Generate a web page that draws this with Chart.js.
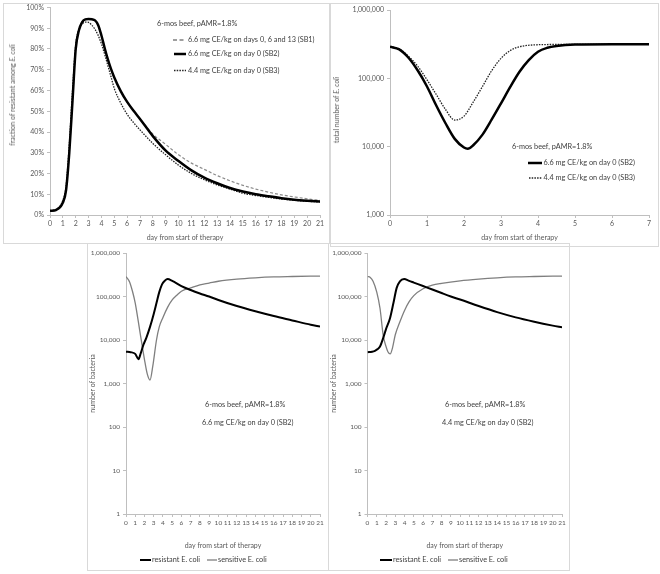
<!DOCTYPE html>
<html><head><meta charset="utf-8">
<script src="https://cdn.jsdelivr.net/npm/chart.js@4/dist/chart.umd.min.js"></script>
<style>
html,body{margin:0;padding:0;background:#fff;}
#root{position:relative;width:660px;height:574px;overflow:hidden;background:#fff;font-family:Lato,'Liberation Sans',sans-serif;}
.box{position:absolute;border:1px solid #d9d9d9;box-sizing:border-box;}
canvas{position:absolute;}
.t{position:absolute;white-space:nowrap;font-size:7.3px;line-height:8px;color:#404040;}
.vt{position:absolute;white-space:nowrap;font-size:7px;line-height:8px;color:#595959;transform:translate(-50%,-50%) rotate(-90deg);}
svg{position:absolute;left:0;top:0;}
</style></head><body>
<div id="root">
 <div class="box" style="left:3px;top:3px;width:327px;height:241px"></div>
 <div class="box" style="left:330px;top:3px;width:329px;height:244px"></div>
 <div class="box" style="left:87px;top:243px;width:242px;height:328px"></div>
 <div class="box" style="left:328px;top:243px;width:242px;height:328px"></div>
 <canvas id="c1" width="326" height="240" style="left:3px;top:3px"></canvas>
 <canvas id="c2" width="328" height="243" style="left:330px;top:3px"></canvas>
 <canvas id="c3" width="241" height="325" style="left:87px;top:245px"></canvas>
 <canvas id="c4" width="241" height="325" style="left:328px;top:245px"></canvas>

 <div class="vt" style="left:12px;top:95px">fraction of resistant among <i>E. coli</i></div>
 <div class="vt" style="left:336px;top:110px">total number of <i>E. coli</i></div>

 <div class="t" style="left:157px;top:20px">6-mos beef, pAMR=1.8%</div>
 <div class="t" style="left:188px;top:36px">6.6 mg CE/kg on days 0, 6 and 13 (SB1)</div>
 <div class="t" style="left:188px;top:50px">6.6 mg CE/kg on day 0 (SB2)</div>
 <div class="t" style="left:188px;top:66.5px">4.4 mg CE/kg on day 0 (SB3)</div>

 <div class="t" style="left:512px;top:143px">6-mos beef, pAMR=1.8%</div>
 <div class="t" style="left:543.5px;top:159px">6.6 mg CE/kg on day 0 (SB2)</div>
 <div class="t" style="left:543.5px;top:174px">4.4 mg CE/kg on day 0 (SB3)</div>

 <div class="t" style="left:205px;top:401px">6-mos beef, pAMR=1.8%</div>
 <div class="t" style="left:202px;top:419px">6.6 mg CE/kg on day 0 (SB2)</div>
 <div class="t" style="left:445px;top:401px">6-mos beef, pAMR=1.8%</div>
 <div class="t" style="left:442px;top:419px">4.4 mg CE/kg on day 0 (SB2)</div>

 <div class="t" style="left:152px;top:556px">resistant E. coli</div>
 <div class="t" style="left:218px;top:556px">sensitive E. coli</div>
 <div class="t" style="left:393px;top:556px">resistant E. coli</div>
 <div class="t" style="left:459px;top:556px">sensitive E. coli</div>

 <svg width="660" height="574">
  <line x1="173" y1="40" x2="185" y2="40" stroke="#7f7f7f" stroke-width="1.3" stroke-dasharray="4,2.5"/>
  <line x1="174" y1="54" x2="186" y2="54" stroke="#000" stroke-width="2.5"/>
  <line x1="174" y1="70.5" x2="186" y2="70.5" stroke="#222" stroke-width="1.3" stroke-dasharray="1.5,1.2"/>
  <line x1="528" y1="163" x2="542" y2="163" stroke="#000" stroke-width="2.5"/>
  <line x1="529" y1="178" x2="542" y2="178" stroke="#222" stroke-width="1.3" stroke-dasharray="1.5,1.2"/>
  <line x1="140" y1="560" x2="151" y2="560" stroke="#000" stroke-width="2"/>
  <line x1="207" y1="560" x2="217" y2="560" stroke="#7f7f7f" stroke-width="1.3"/>
  <line x1="380" y1="560" x2="392" y2="560" stroke="#000" stroke-width="2"/>
  <line x1="448" y1="560" x2="458" y2="560" stroke="#7f7f7f" stroke-width="1.3"/>
 </svg>
</div>
<script>
// ---------- Panel 1: fraction of resistant among E. coli (%) ----------
const p1Days = [0, 0.5, 1, 1.25, 1.5, 1.75, 2, 2.25, 2.5, 2.75, 3, 3.25, 3.5, 3.75, 4, 4.25, 4.5, 4.75, 5, 5.5, 6, 6.5, 7, 8, 9, 10, 11, 12, 13, 14, 15, 16, 17, 18, 19, 20, 21];
const p1SB1 = [2, 2.5, 6, 12, 30, 55, 80, 89, 93, 94.3, 94.5, 94.3, 93.8, 91.5, 86.5, 80.5, 75, 70.3, 66.3, 59.7, 54.5, 50.2, 46.3, 39, 34, 29, 25, 22, 19, 16.5, 14.3, 12.5, 11, 9.7, 8.7, 7.8, 7.0];
const p1SB2 = [2, 2.5, 6, 12, 30, 55, 80, 89, 93, 94.3, 94.5, 94.3, 93.8, 91.5, 86.5, 80.5, 75, 70.3, 66.3, 59.7, 54.5, 50.2, 46.3, 38, 31, 26, 21.5, 18, 15.3, 13, 11.3, 10, 9, 8.1, 7.4, 6.9, 6.5];
const p1SB3 = [2, 2.8, 7, 14, 34, 60, 82, 89.5, 92, 93, 92.8, 91.5, 89.5, 86.5, 82.5, 77.5, 72, 66.5, 61, 54, 48.5, 44.5, 41, 34.5, 29, 24, 20, 17, 14.5, 12.5, 10.5, 9.4, 8.5, 7.7, 7.1, 6.6, 6.3];
const p1YTicks = [0, 10, 20, 30, 40, 50, 60, 70, 80, 90, 100];
const p1XTicks = [0,1,2,3,4,5,6,7,8,9,10,11,12,13,14,15,16,17,18,19,20,21];

// ---------- Panel 2: total number of E. coli ----------
const p2DaysSB2 = [0, 0.25, 0.5, 0.75, 1, 1.25, 1.5, 1.75, 2, 2.1, 2.25, 2.5, 2.75, 3, 3.25, 3.5, 3.75, 4, 4.25, 4.5, 5, 6, 7];
const p2SB2 = [290000, 265000, 200000, 130000, 76000, 40000, 22000, 13000, 9700, 9300, 10500, 15000, 25000, 43000, 75000, 125000, 185000, 245000, 280000, 298000, 312000, 315000, 315000];
const p2DaysSB3 = [0, 0.25, 0.5, 0.75, 1, 1.25, 1.5, 1.75, 2, 2.25, 2.5, 2.75, 3, 3.25, 3.5, 4, 4.5, 5, 6, 7];
const p2SB3 = [290000, 270000, 210000, 150000, 95000, 58000, 35000, 24500, 28000, 45000, 76000, 130000, 196000, 255000, 290000, 310000, 313000, 315000, 315000, 315000];
const p2YTicks = [1000, 10000, 100000, 1000000];
const p2XTicks = [0,1,2,3,4,5,6,7];

// ---------- Panel 3: 6.6 mg CE/kg on day 0 (SB2) ----------
const p3DaysRes = [0, 0.5, 1, 1.35, 1.6, 1.9, 2.2, 2.6, 3, 3.3, 3.6, 3.9, 4.2, 4.5, 5, 6, 7, 8, 9, 10, 12, 14, 16, 18, 20, 21];
const p3Res = [5400, 5250, 4800, 3630, 5000, 7900, 11200, 20000, 39800, 70800, 126000, 190000, 229000, 251000, 229000, 174000, 141000, 117500, 100000, 83200, 60300, 45700, 35500, 28200, 22400, 20400];
const p3DaysSens = [0, 0.4, 0.7, 1, 1.5, 2, 2.3, 2.6, 2.9, 3.3, 3.6, 4, 4.5, 5, 5.5, 6, 7, 8, 9, 10, 12, 14, 16, 18, 21];
const p3Sens = [288000, 214000, 132000, 70800, 15800, 3550, 1660, 1200, 2510, 10000, 20000, 33100, 56200, 83200, 107000, 132000, 158000, 186000, 204000, 224000, 251000, 269000, 282000, 288000, 295000];

// ---------- Panel 4: 4.4 mg CE/kg on day 0 ----------
const p4DaysRes = [0, 0.5, 0.8, 1.1, 1.35, 1.7, 2, 2.43, 2.8, 3.15, 3.5, 3.95, 4.5, 5, 6, 7, 8, 9, 10, 12, 14, 16, 18, 20, 21];
const p4Res = [5250, 5370, 5620, 6170, 7080, 11200, 17800, 31600, 70800, 158000, 224000, 251000, 229000, 209000, 174000, 145000, 120000, 100000, 85100, 60300, 43700, 33100, 26300, 21400, 19500];
const p4DaysSens = [0, 0.3, 0.6, 1, 1.35, 1.7, 2, 2.2, 2.45, 2.7, 3, 3.5, 4, 4.5, 5, 6, 7, 8, 10, 12, 14, 16, 18, 21];
const p4Sens = [288000, 275000, 224000, 126000, 53700, 12600, 7080, 5370, 4790, 6610, 13200, 26300, 47900, 75900, 105000, 151000, 182000, 200000, 229000, 251000, 269000, 282000, 288000, 295000];
const p34YTicks = [1, 10, 100, 1000, 10000, 100000, 1000000];

const FONT = 'Lato';
const TICK = '#595959';
const AXIS = '#bfbfbf';
const fmtNum = v => String(Math.round(v)).replace(/\B(?=(\d{3})+(?!\d))/g, ',');
const pts = (xs, ys) => xs.map((x, i) => ({x, y: ys[i]}));

function mk(id, datasets, o) {
  const f = {family: FONT, size: o.fs};
  return new Chart(document.getElementById(id), {
    type: 'line',
    data: {datasets},
    options: {
      responsive: false, animation: false, devicePixelRatio: 1,
      layout: {padding: o.pad},
      elements: {point: {radius: 0}, line: {cubicInterpolationMode: 'monotone'}},
      plugins: {legend: {display: false}, tooltip: {enabled: false}},
      scales: {
        x: {
          type: 'linear', min: o.xMin, max: o.xMax,
          afterBuildTicks: s => { s.ticks = o.xTicks.map(v => ({value: v})); },
          afterFit: s => { s.height = o.xH; s.paddingLeft = 0; s.paddingRight = 0; },
          ticks: {font: f, color: TICK, padding: 1.8, maxRotation: 0, autoSkip: false, callback: v => String(v)},
          grid: {drawOnChartArea: false, drawTicks: true, tickLength: 3, color: AXIS},
          border: {color: AXIS},
          title: {display: true, text: 'day from start of therapy', font: {family: FONT, size: 7}, color: TICK, padding: {top: 0, bottom: o.xtp}}
        },
        y: {
          type: o.yType, min: o.yMin, max: o.yMax,
          afterBuildTicks: s => { s.ticks = o.yTicks.map(v => ({value: v})); },
          afterFit: s => { s.width = o.yW; s.paddingTop = 0; s.paddingBottom = 0; },
          ticks: {font: f, color: TICK, padding: 3, autoSkip: false, callback: o.yFmt},
          grid: {drawOnChartArea: false, drawTicks: true, tickLength: 3, color: AXIS},
          border: {color: AXIS},
          title: o.yTitle ? {display: true, text: o.yTitle, font: {family: FONT, size: 7}, color: TICK, padding: {top: 1.8, bottom: 0}} : {display: false}
        }
      }
    }
  });
}

mk('c1', [
  {data: pts(p1Days, p1SB2), borderColor: '#000', borderWidth: 2.5, order: 0},
  {data: pts(p1Days, p1SB3), borderColor: '#222', borderWidth: 1.3, borderDash: [1.5, 1.2], order: 1},
  {data: pts(p1Days, p1SB1), borderColor: '#8c8c8c', borderWidth: 1.2, borderDash: [3, 2], order: 2}
], {pad: {left: 17, right: 9, top: 4.5, bottom: 0}, xMin: 0, xMax: 21, xTicks: p1XTicks, xH: 28, xtp: 0.8,
    yType: 'linear', yMin: 0, yMax: 100, yTicks: p1YTicks, yW: 30, yFmt: v => v + '%', fs: 7});

mk('c2', [
  {data: pts(p2DaysSB2, p2SB2), borderColor: '#000', borderWidth: 2.5, order: 0},
  {data: pts(p2DaysSB3, p2SB3), borderColor: '#222', borderWidth: 1.3, borderDash: [1.5, 1.2], order: 1}
], {pad: {left: 20, right: 9, top: 7, bottom: 0}, xMin: 0, xMax: 7, xTicks: p2XTicks, xH: 31, xtp: 3.8,
    yType: 'logarithmic', yMin: 1000, yMax: 1000000, yTicks: p2YTicks, yW: 40, yFmt: fmtNum, fs: 7});

mk('c3', [
  {data: pts(p3DaysRes, p3Res), borderColor: '#000', borderWidth: 2, order: 0},
  {data: pts(p3DaysSens, p3Sens), borderColor: '#7f7f7f', borderWidth: 1.3, order: 1}
], {pad: {left: 0, right: 8, top: 8, bottom: 16}, xMin: 0, xMax: 21, xTicks: p1XTicks, xH: 40, xtp: 3.8,
    yType: 'logarithmic', yMin: 1, yMax: 1000000, yTicks: p34YTicks, yW: 39, yFmt: fmtNum, fs: 6.5, yTitle: 'number of bacteria'});

mk('c4', [
  {data: pts(p4DaysRes, p4Res), borderColor: '#000', borderWidth: 2, order: 0},
  {data: pts(p4DaysSens, p4Sens), borderColor: '#7f7f7f', borderWidth: 1.3, order: 1}
], {pad: {left: 0, right: 7, top: 8, bottom: 16}, xMin: 0, xMax: 21, xTicks: p1XTicks, xH: 40, xtp: 3.8,
    yType: 'logarithmic', yMin: 1, yMax: 1000000, yTicks: p34YTicks, yW: 39.5, yFmt: fmtNum, fs: 6.5, yTitle: 'number of bacteria'});
</script>
</body></html>
